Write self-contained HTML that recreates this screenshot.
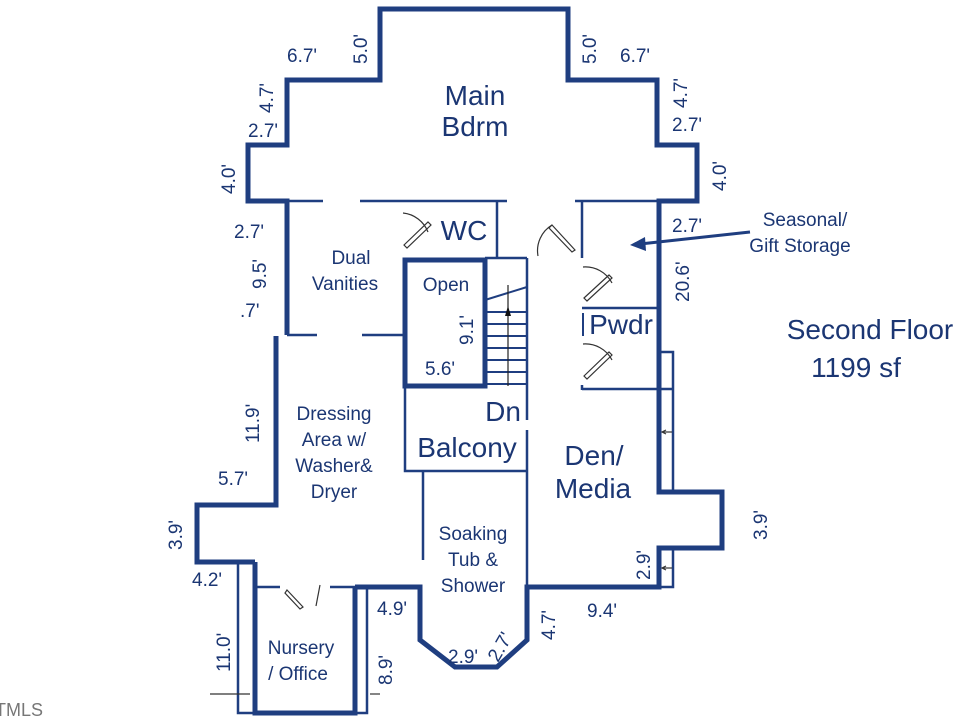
<!DOCTYPE html>
<html><head><meta charset="utf-8"><style>
html,body{margin:0;padding:0;background:#fff;width:960px;height:720px;overflow:hidden}
svg text{font-family:"Liberation Sans",sans-serif;fill:#1b3673}
</style></head><body>
<svg width="960" height="720" viewBox="0 0 960 720" xmlns="http://www.w3.org/2000/svg">
<g fill="none" stroke="#1f3e80" stroke-linejoin="miter">
<g stroke-width="5">
<polyline points="287,335 287,201 248,201 248,145 287,145 287,80 380,80 380,9 568,9 568,80 657,80 657,145 697,145 697,201 659,201 659,492 722,492 722,548 659,548 659,587 527,587 527,640 497,667 455,667 420,640 420,587 355,587"/>
<polyline points="276,336 276,505 197,505 197,562 255,562"/>
<polyline points="255,562 255,713 355,713 355,587"/>
<rect x="405" y="260" width="80" height="126"/>
</g>
<g stroke-width="2.5">
<line x1="287" y1="201" x2="323" y2="201"/>
<line x1="360" y1="201" x2="507" y2="201"/>
<line x1="575" y1="201" x2="659" y2="201"/>
<line x1="497" y1="201" x2="497" y2="258"/>
<line x1="485" y1="258" x2="527" y2="258"/>
<line x1="527" y1="258" x2="527" y2="420"/>
<line x1="582" y1="201" x2="582" y2="258"/>
<line x1="582" y1="308" x2="659" y2="308"/>
<line x1="582" y1="389" x2="673" y2="389"/>
<line x1="582" y1="385" x2="582" y2="390"/>
<line x1="287" y1="335" x2="317" y2="335"/>
<line x1="362" y1="335" x2="405" y2="335"/>
<polyline points="405,386 405,471 527,471"/>
<line x1="527" y1="430" x2="527" y2="587"/>
<line x1="423" y1="471" x2="423" y2="560"/>
<polyline points="659,352 673,352 673,492"/>
<polyline points="659,548 673,548 673,587 659,587"/>
<polyline points="255,562 238,562 238,713 255,713"/>
<polyline points="355,587 367,587 367,713 355,713"/>
<line x1="255" y1="587" x2="280" y2="587"/>
<line x1="330" y1="587" x2="355" y2="587"/>
</g>
<g stroke-width="2">
<line x1="485" y1="300" x2="527" y2="287"/>
<line x1="485" y1="312" x2="527" y2="312"/>
<line x1="485" y1="324" x2="527" y2="324"/>
<line x1="485" y1="336" x2="527" y2="336"/>
<line x1="485" y1="348" x2="527" y2="348"/>
<line x1="485" y1="360" x2="527" y2="360"/>
<line x1="485" y1="372" x2="527" y2="372"/>
<line x1="485" y1="384" x2="527" y2="384"/>
<line x1="508" y1="285" x2="508" y2="386" stroke-width="1.2" stroke="#222"/>
</g>
<g stroke="#333" stroke-width="1.2">
<path d="M403,213 A30,30 0 0 1 428,232"/>
<path d="M404,245 L428,222 L431,225 L407,248 Z"/>
<path d="M538,256 A30,30 0 0 1 552,225"/>
<path d="M552,225 L575,250 L572,252 L549,228 Z"/>
<path d="M583,267 A30,30 0 0 1 612,283"/>
<path d="M584,298 L609,275 L612,278 L587,301 Z"/>
<path d="M583,344 A30,30 0 0 1 612,360"/>
<path d="M584,376 L609,352 L612,355 L587,379 Z"/>
<path d="M287,590 L303,607 L300,609 L285,593 Z"/>
<path d="M320,585 L316,606"/>
<line x1="663" y1="432" x2="672" y2="432"/><path d="M666,430 L662,432 L666,434"/>
<line x1="663" y1="568" x2="672" y2="568"/><path d="M666,566 L662,568 L666,570"/>
<line x1="210" y1="694" x2="250" y2="694"/>
<line x1="370" y1="694" x2="380" y2="694"/>
</g>
<path d="M508,306 L505,316 L511,316 Z" fill="#111" stroke="none"/>
<line x1="750" y1="232" x2="640" y2="244" stroke="#1f3e80" stroke-width="3"/>
<path d="M630,245 L645,237 L646,251 Z" fill="#1f3e80" stroke="none"/>
</g>
<g font-size="19">
<text x="287" y="62">6.7'</text>
<text x="620" y="62">6.7'</text>
<text x="248" y="137">2.7'</text>
<text x="672" y="131">2.7'</text>
<text x="234" y="238">2.7'</text>
<text x="672" y="232">2.7'</text>
<text x="240" y="317">.7'</text>
<text x="425" y="375">5.6'</text>
<text x="218" y="485">5.7'</text>
<text x="192" y="586">4.2'</text>
<text x="377" y="615">4.9'</text>
<text x="587" y="617">9.4'</text>
<text x="448" y="663">2.9'</text>
<text transform="translate(367,64) rotate(-90)">5.0'</text>
<text transform="translate(596,64) rotate(-90)">5.0'</text>
<text transform="translate(273,113) rotate(-90)">4.7'</text>
<text transform="translate(687,108) rotate(-90)">4.7'</text>
<text transform="translate(235,194) rotate(-90)">4.0'</text>
<text transform="translate(726,191) rotate(-90)">4.0'</text>
<text transform="translate(266,289) rotate(-90)">9.5'</text>
<text transform="translate(689,302) rotate(-90)">20.6'</text>
<text transform="translate(473,345) rotate(-90)">9.1'</text>
<text transform="translate(259,443) rotate(-90)">11.9'</text>
<text transform="translate(182,550) rotate(-90)">3.9'</text>
<text transform="translate(767,540) rotate(-90)">3.9'</text>
<text transform="translate(650,580) rotate(-90)">2.9'</text>
<text transform="translate(230,672) rotate(-90)">11.0'</text>
<text transform="translate(392,685) rotate(-90)">8.9'</text>
<text transform="translate(555,640) rotate(-90)">4.7'</text>
<text transform="translate(498,663) rotate(-60)">2.7'</text>
</g>
<g font-size="19" text-anchor="middle">
<text x="351" y="264">Dual</text><text x="345" y="290">Vanities</text>
<text x="334" y="420">Dressing</text><text x="334" y="446">Area w/</text><text x="334" y="472">Washer&amp;</text><text x="334" y="498">Dryer</text>
<text x="473" y="540">Soaking</text><text x="473" y="566">Tub &amp;</text><text x="473" y="592">Shower</text>
<text x="301" y="654">Nursery</text><text x="298" y="680">/ Office</text>
<text x="446" y="291">Open</text>
<text x="805" y="226">Seasonal/</text><text x="800" y="252">Gift Storage</text>
</g>
<g font-size="28" text-anchor="middle">
<text x="475" y="105">Main</text><text x="475" y="136">Bdrm</text>
<text x="464" y="240">WC</text>
<text x="621" y="334">Pwdr</text>
<text x="503" y="421">Dn</text>
<text x="467" y="457">Balcony</text>
<text x="594" y="465">Den/</text><text x="593" y="498">Media</text>
<text x="870" y="339">Second Floor</text>
<text x="856" y="377">1199 sf</text>
</g>
<line x1="583" y1="313" x2="583" y2="336" stroke="#1f3e80" stroke-width="2"/>
<text x="-5" y="716" font-size="18" style="fill:#777">TMLS</text>
</svg>
</body></html>
